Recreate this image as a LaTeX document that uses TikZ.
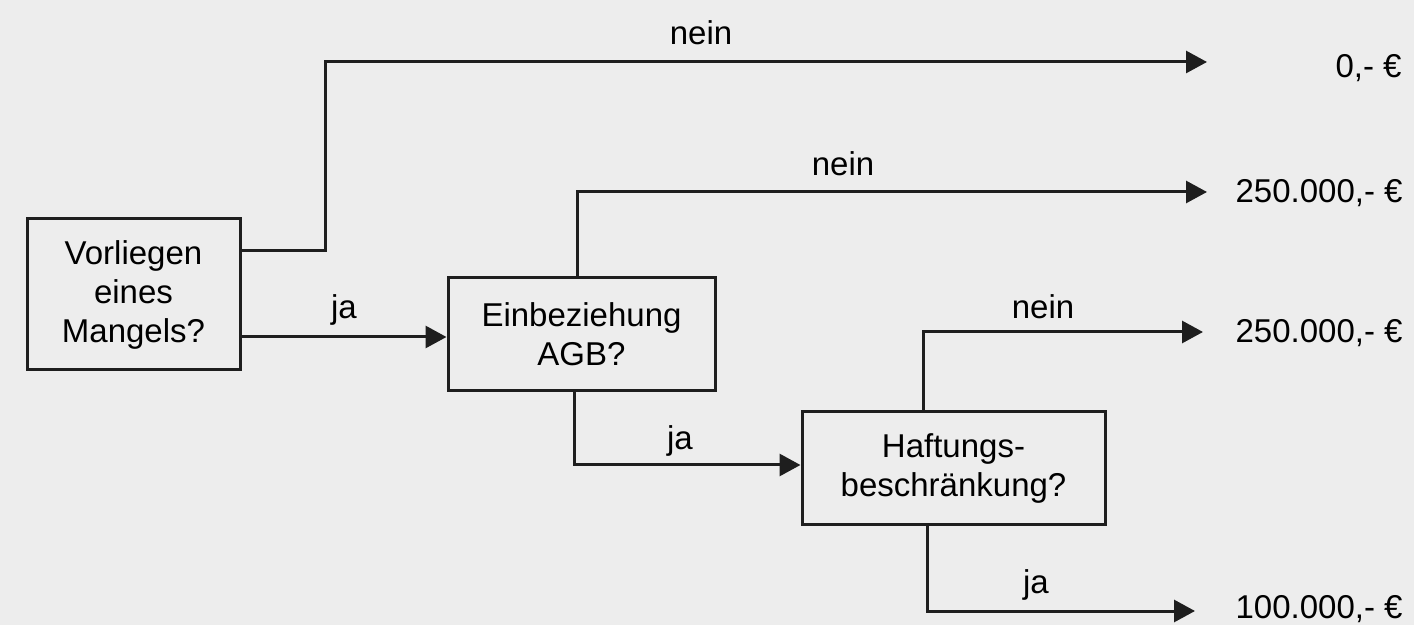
\documentclass[tikz,border=0pt]{standalone}
\usepackage{fontspec}
\setmainfont{Liberation Sans}
\usetikzlibrary{arrows.meta}
\definecolor{bg}{RGB}{237,237,237}
\definecolor{ln}{RGB}{30,30,30}
\tikzset{
  box/.style={draw=ln, line width=1.5pt, fill=bg, align=center, inner sep=0pt,
    font=\fontsize{16.5}{19.5}\selectfont},
  arr/.style={draw=ln, line width=1.5pt, -{Triangle[length=10.5pt,width=11pt]}},
  lbl/.style={anchor=base, inner sep=0pt, font=\fontsize{16.5}{19.5}\selectfont},
  res/.style={anchor=base east, inner sep=0pt, font=\fontsize{16.5}{19.5}\selectfont}
}
\begin{document}
\begin{tikzpicture}[x=0.5pt,y=-0.5pt]
\useasboundingbox (0,0) rectangle (1414,625);
\fill[bg] (0,0) rectangle (1414,625);

\node[box, minimum width=106.5pt, minimum height=75.5pt] (b1) at (133.5,294.5) {Vorliegen\\eines\\Mangels?};
\node[box, minimum width=133.5pt, minimum height=56.5pt] (b2) at (581.5,334.5) {Einbeziehung\\AGB?};
\node[box, minimum width=151.5pt, minimum height=56.5pt] (b3) at (953.5,468.5) {Haftungs-\\beschränkung?};

\coordinate (k1) at (325,62);
\coordinate (t0) at (1207,62);
\coordinate (t1) at (1207,192);
\coordinate (t2) at (1203,332);
\coordinate (t3) at (1195,611);

\draw[arr] ([yshift=21.75pt]b1.east) -| (k1) -- (t0);
\draw[arr] ([yshift=-21.25pt]b1.east) -- ([yshift=-1.25pt]b2.west);
\draw[arr] ([xshift=-2.25pt]b2.north) |- (t1);
\draw[arr] ([xshift=-3.75pt]b2.south) |- ([yshift=1.75pt]b3.west);
\draw[arr] ([xshift=-15.25pt]b3.north) |- (t2);
\draw[arr] ([xshift=-13.25pt]b3.south) |- (t3);

\node[lbl] (n1) at (701,45) {nein};
\node[lbl] (j1) at (344,319) {ja};
\node[lbl] (n2) at (843,176) {nein};
\node[lbl] (j2) at (680,450) {ja};
\node[lbl] (n3) at (1043,319) {nein};
\node[lbl] (j3) at (1036,593) {ja};

\node[res] (r0) at (1402,78) {0,- €};
\node[res] (r1) at (1403,203) {250.000,- €};
\node[res] (r2) at (1403,343) {250.000,- €};
\node[res] (r3) at (1403,618) {100.000,- €};
\end{tikzpicture}
\end{document}
